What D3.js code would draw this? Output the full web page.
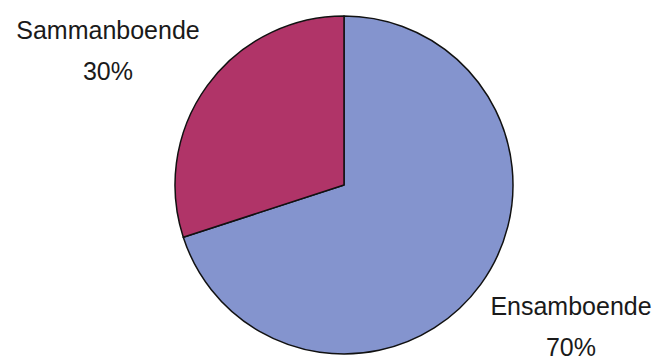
<!DOCTYPE html>
<html>
<head>
<meta charset="utf-8">
<script src="https://cdn.jsdelivr.net/npm/d3@7"></script>
<style>
  html, body { margin: 0; padding: 0; background: #fff; }
  svg { display: block; }
  text { font-family: "Liberation Sans", Arial, sans-serif; fill: #1a1a1a; }
</style>
</head>
<body>
<svg id="chart" width="663" height="363"></svg>
<script>
// Household type shares
const categories = ["Ensamboende", "Sammanboende"];
const values = [70, 30];
const colors = ["#8494ce", "#b03468"];

const svg = d3.select("#chart");
const cx = 344, cy = 185, r = 169;

const pie = d3.pie().sort(null).value(d => d.value);
const arcs = pie(categories.map((c, i) => ({ name: c, value: values[i], color: colors[i] })));
const arc = d3.arc().innerRadius(0).outerRadius(r);

const g = svg.append("g").attr("transform", `translate(${cx},${cy})`);
g.selectAll("path")
  .data(arcs)
  .join("path")
  .attr("d", arc)
  .attr("fill", d => d.data.color)
  .attr("stroke", "#111")
  .attr("stroke-width", 1.5)
  .attr("stroke-linejoin", "round");

// Category labels with percentages
const labelPos = {
  "Ensamboende": { x: 571, y: 315 },
  "Sammanboende": { x: 108, y: 39 }
};
const total = d3.sum(values);
arcs.forEach(d => {
  const p = labelPos[d.data.name];
  const t = svg.append("text")
    .attr("text-anchor", "middle")
    .attr("font-size", 25);
  t.append("tspan").attr("x", p.x).attr("y", p.y).text(d.data.name);
  t.append("tspan").attr("x", p.x).attr("y", p.y + 41)
    .text(Math.round(d.data.value / total * 100) + "%");
});
</script>
</body>
</html>
